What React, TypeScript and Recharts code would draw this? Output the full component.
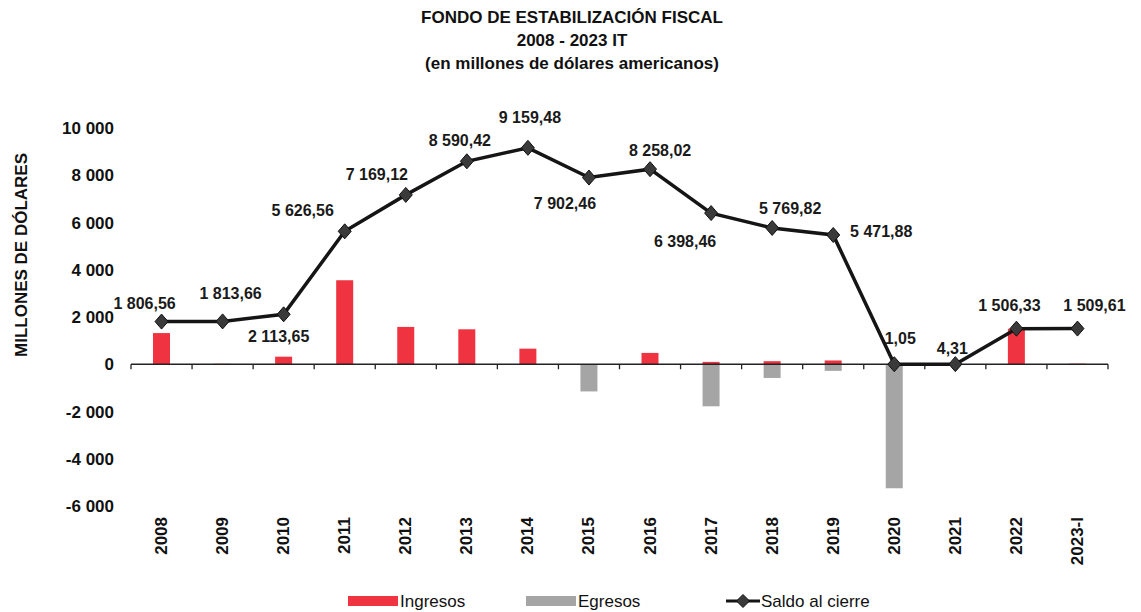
import React from 'react';
import { ComposedChart, Bar, Line, XAxis, YAxis, ReferenceLine, LabelList } from 'recharts';

const years = ['2008', '2009', '2010', '2011', '2012', '2013', '2014', '2015', '2016', '2017', '2018', '2019', '2020', '2021', '2022', '2023-I'];
const ingresos = [1320, 20, 320, 3560, 1580, 1480, 660, 0, 480, 100, 130, 160, 0, 0, 1502, 25];
const egresos = [0, 0, 0, 0, 0, 0, 0, -1150, 0, -1780, -580, -280, -5250, 0, 0, 0];
const saldo = [1806.56, 1813.66, 2113.65, 5626.56, 7169.12, 8590.42, 9159.48, 7902.46, 8258.02, 6398.46, 5769.82, 5471.88, 1.05, 4.31, 1506.33, 1509.61];
const yTicks = [-6000, -4000, -2000, 0, 2000, 4000, 6000, 8000, 10000];
const titleLines = ['FONDO DE ESTABILIZACIÓN  FISCAL', '2008 - 2023 IT', '(en millones de dólares americanos)'];
const yTitle = 'MILLONES DE DÓLARES';
const seriesNames = ['Ingresos', 'Egresos', 'Saldo al cierre'];

// label placement offsets (dx, dy) relative to each point
const labelOffsets: [number, number][] = [
  [-17, -18], [8, -28], [-5, 22], [-42, -21], [-29, -20], [-7, -21], [2, -30], [-24, 26],
  [10, -19], [-26, 28], [18, -19], [48, -3], [6, -26], [-3, -16], [-7, -23], [17, -23],
];

const data = years.map((y, i) => ({ year: y, ingresos: ingresos[i], egresos: egresos[i], saldo: saldo[i] }));

const FONT = '"Liberation Sans", Arial, sans-serif';
const RED = '#ef3340';
const GREY = '#a5a5a5';

const fmtLabel = (v: number) => {
  const [i, d] = v.toFixed(2).split('.');
  return i.replace(/\B(?=(\d{3})+(?!\d))/g, ' ') + ',' + d;
};
const fmtTick = (v: number) => String(v).replace(/\B(?=(\d{3})+(?!\d))/g, ' ');

const Diamond = (props: any) => {
  const { cx, cy, index } = props;
  if (cx == null || cy == null) return null;
  return (
    <path
      key={`d-${index}`}
      d={`M${cx},${cy - 7.5}L${cx + 6.5},${cy}L${cx},${cy + 7.5}L${cx - 6.5},${cy}Z`}
      fill="#3a3a3a"
      stroke="#111"
      strokeWidth={1}
    />
  );
};

const XTick = (props: any) => {
  const { x, y, payload } = props;
  return (
    <text
      transform={`translate(${x},${y + 11}) rotate(-90)`}
      textAnchor="end"
      dominantBaseline="central"
      fontFamily={FONT}
      fontWeight="bold"
      fontSize={17}
      fill="#111"
    >
      {payload.value}
    </text>
  );
};

const ZeroAxis = (props: any) => {
  const { x1, y1, x2 } = props;
  const n = years.length;
  const step = (x2 - x1) / n;
  const ticks = [];
  for (let i = 0; i <= n; i++) {
    const tx = x1 + i * step;
    ticks.push(<line key={i} x1={tx} y1={y1} x2={tx} y2={y1 + 5} stroke="#222" strokeWidth={1.3} />);
  }
  return (
    <g>
      <line x1={x1} y1={y1} x2={x2} y2={y1} stroke="#222" strokeWidth={1.6} />
      {ticks}
    </g>
  );
};

const SaldoLabel = (props: any) => {
  const { x, y, value, index } = props;
  const [dx, dy] = labelOffsets[index] || [0, -20];
  return (
    <text
      x={x + dx}
      y={y + dy}
      textAnchor="middle"
      dominantBaseline="central"
      fontFamily={FONT}
      fontWeight="bold"
      fontSize={16}
      fill="#1a1a1a"
    >
      {fmtLabel(value)}
    </text>
  );
};

export default function App() {
  return (
    <div style={{ position: 'absolute', left: 0, top: 0, width: 1141, height: 612, background: '#fff' }}>
      <ComposedChart
        width={1141}
        height={612}
        data={data}
        stackOffset="sign"
        margin={{ top: 128, right: 33, bottom: 46, left: 0 }}
      >
        <XAxis
          dataKey="year"
          axisLine={false}
          tickLine={false}
          tickSize={0}
          tickMargin={0}
          height={60}
          interval={0}
          tick={<XTick />}
        />
        <YAxis
          width={131}
          domain={[-6000, 10000]}
          ticks={yTicks}
          axisLine={false}
          tickLine={false}
          tickSize={0}
          tickMargin={17}
          tickFormatter={fmtTick}
          tick={{ fontFamily: FONT, fontWeight: 'bold', fontSize: 17, fill: '#111' }}
        />
        <Bar dataKey="ingresos" stackId="a" fill={RED} barSize={17} isAnimationActive={false} />
        <Bar dataKey="egresos" stackId="a" fill={GREY} barSize={17} isAnimationActive={false} />
        <ReferenceLine y={0} shape={(p: any) => <ZeroAxis {...p} />} />
        <Line
          dataKey="saldo"
          stroke="#151515"
          strokeWidth={3.5}
          dot={<Diamond />}
          activeDot={false}
          isAnimationActive={false}
        >
          <LabelList dataKey="saldo" content={<SaldoLabel />} />
        </Line>
      </ComposedChart>
      <svg width={1141} height={612} style={{ position: 'absolute', left: 0, top: 0, pointerEvents: 'none' }}>
        <g fontFamily={FONT} fontWeight="bold" fontSize={17} fill="#111" textAnchor="middle">
          <text x={572} y={17} dominantBaseline="central">{titleLines[0]}</text>
          <text x={572} y={40} dominantBaseline="central">{titleLines[1]}</text>
          <text x={572} y={63} dominantBaseline="central">{titleLines[2]}</text>
        </g>
        <text
          transform="translate(21,255) rotate(-90)"
          textAnchor="middle"
          dominantBaseline="central"
          fontFamily={FONT}
          fontWeight="bold"
          fontSize={17}
          fill="#111"
        >
          {yTitle}
        </text>
        <g fontFamily={FONT} fontSize={17} fill="#111">
          <rect x={348} y={596} width={50} height={10} fill={RED} />
          <text x={400} y={601} dominantBaseline="central">{seriesNames[0]}</text>
          <rect x={526} y={596} width={50} height={10} fill={GREY} />
          <text x={578} y={601} dominantBaseline="central">{seriesNames[1]}</text>
          <line x1={726} y1={601} x2={760} y2={601} stroke="#151515" strokeWidth={3} />
          <path d="M743,594.5L749.5,601L743,607.5L736.5,601Z" fill="#3a3a3a" stroke="#111" />
          <text x={761} y={601} dominantBaseline="central">{seriesNames[2]}</text>
        </g>
      </svg>
    </div>
  );
}
